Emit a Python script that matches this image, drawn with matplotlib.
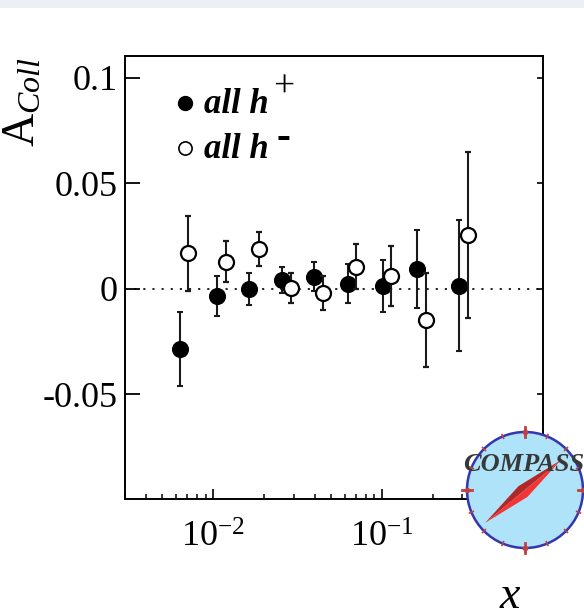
import numpy as np
import matplotlib
matplotlib.use("Agg")
from matplotlib import pyplot as plt
from matplotlib.patches import Circle, Polygon, Rectangle

plt.rcParams['font.family'] = ['Liberation Serif', 'DejaVu Serif']
plt.rcParams['mathtext.fontset'] = 'custom'
plt.rcParams['mathtext.rm'] = 'Liberation Serif'
plt.rcParams['mathtext.it'] = 'Liberation Serif:italic'
plt.rcParams['mathtext.bf'] = 'Liberation Serif:bold'

# Collins asymmetry vs x, positive hadrons
x_pos = [0.00634, 0.0105, 0.01637, 0.0257, 0.0398, 0.0628, 0.1014, 0.1614, 0.2876]
a_pos = [-0.0285, -0.0033, 0.0000, 0.0043, 0.0058, 0.0024, 0.0014, 0.0095, 0.0014]
e_pos = [0.0176, 0.0093, 0.0077, 0.0063, 0.0070, 0.0092, 0.0125, 0.0184, 0.0310]

# negative hadrons
x_neg = [0.00711, 0.01185, 0.01875, 0.0288, 0.0447, 0.0703, 0.113, 0.1824, 0.322]
a_neg = [0.0169, 0.0129, 0.0188, 0.0003, -0.0020, 0.0106, 0.0061, -0.0147, 0.0255]
e_neg = [0.0178, 0.0098, 0.0080, 0.0071, 0.0080, 0.0105, 0.0142, 0.0222, 0.0392]

W, H = 584, 613
fig = plt.figure(figsize=(W / 100, H / 100), dpi=100)

# light band along the top edge
fig.patches.append(Rectangle((0, 1 - 8 / H), 1, 8 / H, transform=fig.transFigure,
                             facecolor='#eceff4', edgecolor='none', zorder=0))

ax = fig.add_axes([125 / W, 1 - 499 / H, 418 / W, 443 / H])
ax.set_xscale('log')
ax.set_xlim(0.003, 0.9)
ax.set_ylim(-0.0995, 0.1103)

ax.axhline(0, color='#222222', lw=1.4, dashes=(1.1, 3.6), zorder=1)

ax.errorbar(x_pos, a_pos, yerr=e_pos, fmt='o', ms=11.3, mfc='black', mec='black',
            ecolor='#1a1a1a', elinewidth=1.5, capsize=2.3, capthick=1.5, zorder=3)
ax.errorbar(x_neg, a_neg, yerr=e_neg, fmt='o', ms=10.8, mfc='white', mec='black',
            mew=1.6, ecolor='#1a1a1a', elinewidth=1.5, capsize=2.3, capthick=1.5, zorder=4)

ax.set_yticks([-0.05, 0, 0.05, 0.1])
ax.set_yticklabels(['-0.05', '0', '0.05', '0.1'])
ax.tick_params(axis='y', which='major', direction='in', length=11, width=1.3,
               labelsize=26, pad=5, right=False)
ax.tick_params(axis='y', which='minor', left=False, right=False)
ax.tick_params(axis='x', which='major', direction='in', length=7, width=1.2,
               labelsize=26, pad=16, top=False)
ax.tick_params(axis='x', which='minor', direction='in', length=3.8, width=1.1, top=False)
for s in ax.spines.values():
    s.set_linewidth(1.4)

# short ticks on the right edge
ax_r = ax.twinx()
ax_r.set_ylim(ax.get_ylim())
ax_r.set_yticks([-0.05, 0, 0.05, 0.1])
ax_r.tick_params(axis='y', direction='in', length=4, width=1.2, labelright=False)
for s in ax_r.spines.values():
    s.set_visible(False)

# legend
ax.plot([0.1435], [0.893], 'o', ms=10, mfc='black', mec='black',
        transform=ax.transAxes, clip_on=False)
ax.plot([0.1435], [0.793], 'o', ms=9.5, mfc='white', mec='black', mew=1.2,
        transform=ax.transAxes, clip_on=False)
t1 = ax.text(0.19, 0.872, 'all h', fontsize=25, fontweight='bold', style='italic',
             transform=ax.transAxes, va='baseline')
t2 = ax.text(0.19, 0.770, 'all h', fontsize=25, fontweight='bold', style='italic',
             transform=ax.transAxes, va='baseline')
ax.annotate('+', xy=(1, 1), xycoords=t1, xytext=(3, 0), textcoords='offset points',
            fontsize=27, ha='left', va='center')
ax.annotate('-', xy=(1, 1), xycoords=t2, xytext=(5, -4), textcoords='offset points',
            fontsize=30, fontweight='bold', ha='left', va='center')

fig.text(2 / W, 1 - 57 / H, r'$\mathrm{A}_{Coll}$', fontsize=33, rotation=90,
         ha='left', va='top')
fig.text(510 / W, 1 - 608 / H, 'x', fontsize=33, style='italic',
         ha='center', va='baseline')

# experiment logo
lg = fig.add_axes([(525 - 70) / W, 1 - (490 + 70) / H, 140 / W, 140 / H])
lg.set_xlim(-70, 70)
lg.set_ylim(-70, 70)
lg.axis('off')
lg.add_patch(Circle((0, 0), 58, facecolor='#aee3fa', edgecolor='#3535b0', lw=1.8, zorder=1))
for ang in np.arange(0, 360, 22.5):
    r0, r1 = (53, 63) if ang % 90 == 0 else (56, 60)
    c, s = np.cos(np.radians(ang)), np.sin(np.radians(ang))
    lg.plot([r0 * c, r1 * c], [r0 * s, r1 * s], color='#c04040',
            lw=2.0 if ang % 90 == 0 else 1.2, zorder=2, clip_on=False)
    if ang % 90 == 0:
        lg.plot([58 * c], [58 * s], 'o', ms=3, color='#c04040', zorder=2, clip_on=False)
# needle: two-tone diamond
tip_a = np.array([-40.0, -33.0])
tip_b = np.array([36.0, 30.0])
mid = (tip_a + tip_b) / 2
perp = np.array([-0.64, 0.77]) * 7
lg.add_patch(Polygon([tip_a, mid + perp, tip_b], closed=True, facecolor='#b02828',
                     edgecolor='none', zorder=3))
lg.add_patch(Polygon([tip_a, mid - perp, tip_b], closed=True, facecolor='#f53535',
                     edgecolor='none', zorder=3))
lg.text(-62, 19, 'COMPASS', fontsize=19, fontweight='bold', style='italic',
        color='#383838', ha='left', va='baseline', zorder=4, clip_on=False)

fig.savefig('out.png', dpi=100)
